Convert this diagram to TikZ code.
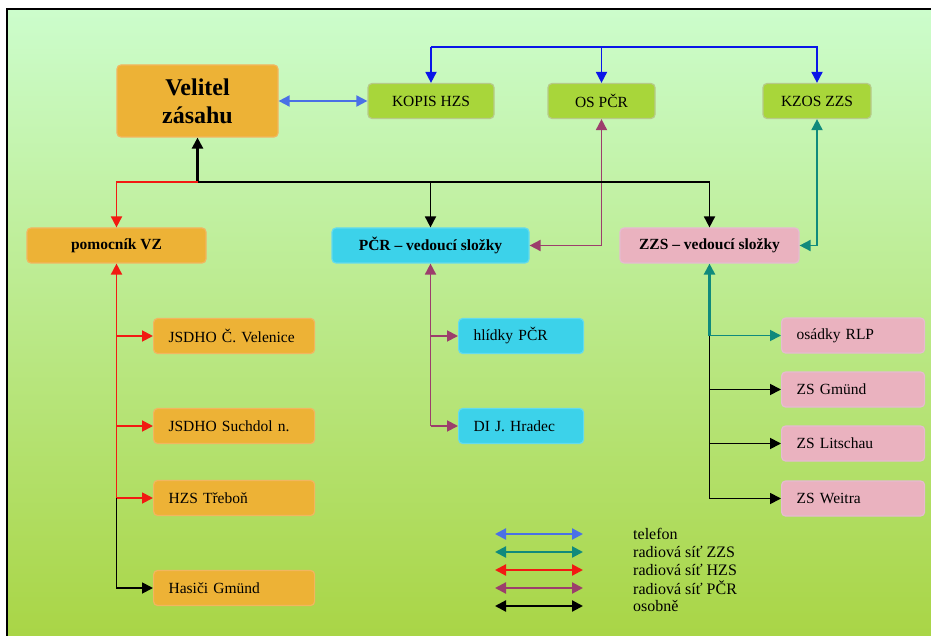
\documentclass[tikz,border=0pt]{standalone}
\usepackage{fontspec}
\setmainfont{Liberation Serif}
\usetikzlibrary{arrows.meta}

\definecolor{bgtop}{HTML}{CCFDCC}
\definecolor{bgmid}{HTML}{C2EEA4}
\definecolor{bgbot}{HTML}{A9D546}
\definecolor{hzsorange}{HTML}{EDB236}
\definecolor{opgreen}{HTML}{A8D63A}
\definecolor{pcrcyan}{HTML}{3CD2EA}
\definecolor{zzspink}{HTML}{EAB2BF}
\definecolor{telblue}{HTML}{4A70E6}
\definecolor{opblue}{HTML}{0A16E8}
\definecolor{zzsteal}{HTML}{108A7C}
\definecolor{hzsred}{HTML}{F21A12}
\definecolor{pcrmaroon}{HTML}{9C3E6C}

\begin{document}
\begin{tikzpicture}[x=1pt,y=-1pt,
  >={Triangle[length=11pt,width=11pt]},
  box/.style={rounded corners=4pt, line width=1.2pt, inner sep=0pt,
    minimum height=35pt, font=\fontsize{15.5}{17}\selectfont},
  orangebox/.style={box, fill=hzsorange, draw=hzsorange!70!pink},
  greenbox/.style={box, fill=opgreen, draw=opgreen!60!gray!70!white},
  cyanbox/.style={box, fill=pcrcyan, draw=pcrcyan!80!white},
  pinkbox/.style={box, fill=zzspink, draw=zzspink!80!violet!60!white},
  child/.style={anchor=west, text width=#1, align=left, inner xsep=15pt},
  lead/.style={minimum width=#1, font=\fontsize{15.5}{17}\selectfont\bfseries},
  tel/.style={telblue, line width=1.8pt},
  radzzs/.style={zzsteal, line width=1.8pt},
  radhzs/.style={hzsred, line width=1.8pt},
  radpcr/.style={pcrmaroon, line width=1.8pt},
  osob/.style={black, line width=1.8pt}]

  \useasboundingbox (0,0) rectangle (931,636);
  \shade[top color=bgtop, middle color=bgmid, bottom color=bgbot] (7,9) rectangle (931,636);
  \draw[line width=1.2pt] (7,636) -- (7,9) -- (931,9);

  % top row
  \node[orangebox, minimum width=161pt, minimum height=72pt, align=center,
    font=\fontsize{24}{28}\selectfont\bfseries] (vel) at (197.5,101) {Velitel\\zásahu};
  \node[greenbox, minimum width=126pt] (kopis) at (431,101) {KOPIS HZS};
  \node[greenbox, minimum width=107pt] (ospcr) at (601.5,101) {OS PČR};
  \node[greenbox, minimum width=108pt] (kzos) at (817,101) {KZOS ZZS};

  % leading units
  \node[orangebox, lead=179pt] (pom) at (116.5,245.5) {pomocník VZ};
  \node[cyanbox, lead=197pt] (pcr) at (430.5,245.5) {PČR -- vedoucí složky};
  \node[pinkbox, lead=179pt] (zzs) at (709.5,245.5) {ZZS -- vedoucí složky};

  % units
  \node[orangebox, child=131pt] (velenice) at (153,336) {JSDHO Č. Velenice};
  \node[orangebox, child=131pt] (suchdol) at (153,426) {JSDHO Suchdol n.};
  \node[orangebox, child=131pt] (trebon) at (153,498) {HZS Třeboň};
  \node[orangebox, child=131pt] (gmund) at (153,588) {Hasiči Gmünd};
  \node[cyanbox, child=95pt] (hlidky) at (458,336) {hlídky PČR};
  \node[cyanbox, child=95pt] (hradec) at (458,426) {DI J. Hradec};
  \node[pinkbox, child=113pt] (rlp) at (781,335.5) {osádky RLP};
  \node[pinkbox, child=113pt] (zsgmund) at (781,389.5) {ZS Gmünd};
  \node[pinkbox, child=113pt] (litschau) at (781,443.5) {ZS Litschau};
  \node[pinkbox, child=113pt] (weitra) at (781,498.5) {ZS Weitra};

  % operational centres
  \coordinate (optop) at (431,47);
  \draw[opblue, line width=1.8pt, ->] (optop) -- (kopis);
  \draw[opblue, line width=1.8pt, ->] (optop) -| (ospcr);
  \draw[opblue, line width=1.8pt, ->] (optop) -| (kzos);
  \draw[tel, <->] (vel) -- (kopis);
  \draw[radpcr, <->] (ospcr) |- (pcr);
  \draw[radzzs, <->] (kzos) |- (zzs);

  % commander
  \coordinate (hub) at (197.5,182);
  \draw[osob, line width=2.4pt, ->] (hub) -- (vel);
  \draw[osob, ->] (hub) -| (pcr);
  \draw[osob, ->] (hub) -| (zzs);
  \draw[radhzs, ->] (hub) -| (pom);

  % HZS
  \draw[radhzs, ->] (pom.south |- trebon.west) -- (pom);
  \foreach \u in {velenice,suchdol,trebon}
    \draw[radhzs, ->] (pom.south |- \u.west) -- (\u);
  \draw[osob, ->] (pom.south |- trebon.west) |- (gmund);

  % PCR
  \draw[radpcr, ->] (pcr.south |- hradec.west) -- (pcr);
  \foreach \u in {hlidky,hradec}
    \draw[radpcr, ->] (pcr.south |- \u.west) -- (\u);

  % ZZS
  \draw[radzzs, line width=2.4pt, ->] (zzs.south |- rlp.west) -- (zzs);
  \draw[radzzs, ->] (zzs.south |- rlp.west) -- (rlp);
  \draw[osob] (zzs.south |- rlp.west) -- (zzs.south |- weitra.west);
  \foreach \u in {zsgmund,litschau,weitra}
    \draw[osob, ->] (zzs.south |- \u.west) -- (\u);

  % legend
  \foreach \s/\t [count=\i] in {tel/telefon, radzzs/radiová síť ZZS,
      radhzs/radiová síť HZS, radpcr/radiová síť PČR, osob/osobně} {
    \coordinate (la\i) at (495,516+18*\i);
    \coordinate (lb\i) at (583,516+18*\i);
    \draw[\s, line width=2.2pt, <->] (la\i) -- (lb\i);
    \node[anchor=west, inner sep=0pt, font=\fontsize{16}{18}\selectfont] (lt\i) at (633,516+18*\i) {\t};
  }
\end{tikzpicture}
\end{document}
